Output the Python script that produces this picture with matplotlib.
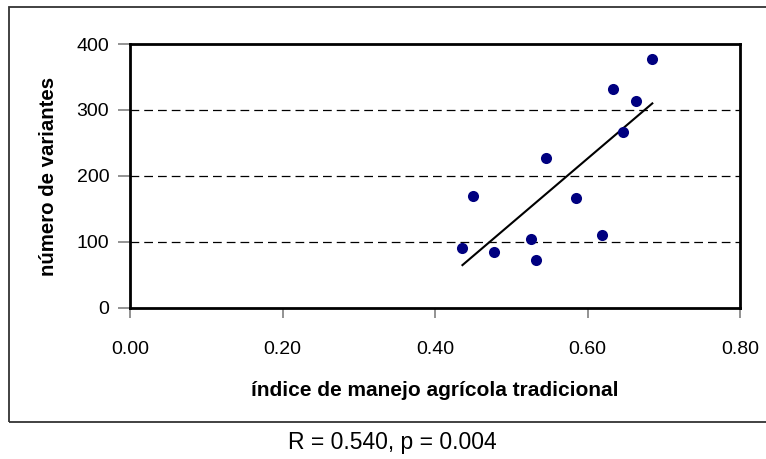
import matplotlib.pyplot as plt
from matplotlib.patches import Rectangle

plt.rcParams['font.family'] = ['Liberation Sans', 'DejaVu Sans']

# indice de manejo agricola tradicional vs numero de variantes
indice = [0.436, 0.450, 0.478, 0.526, 0.532, 0.546, 0.585, 0.619, 0.633, 0.647, 0.664, 0.684]
variantes = [91, 170, 85, 104, 72, 228, 166, 111, 332, 267, 313, 378]

# regression line end points
trend_x = [0.436, 0.685]
trend_y = [65, 310]

xticks = [0.0, 0.2, 0.4, 0.6, 0.8]
yticks = [0, 100, 200, 300, 400]

fig = plt.figure(figsize=(7.66, 4.59), dpi=100)

# outer chart border
fig.patches.append(Rectangle((9 / 766, 1 - 422 / 459), 1.0, (422 - 7) / 459,
                             transform=fig.transFigure, fill=False,
                             edgecolor='#333333', linewidth=1.3))

ax = fig.add_axes([130 / 766, 1 - 308 / 459, 610 / 766, 264 / 459])
ax.scatter(indice, variantes, s=64, color='#000080', zorder=3, linewidths=0)
ax.plot(trend_x, trend_y, color='black', linewidth=1.5, zorder=2)

ax.set_xlim(0, 0.8)
ax.set_ylim(0, 400)
ax.set_xticks(xticks)
ax.set_xticklabels(['%.2f' % t for t in xticks])
ax.set_yticks(yticks)
ax.set_yticklabels([str(t) for t in yticks])

for y in yticks[1:-1]:
    ax.axhline(y, color='black', linestyle=(0, (7, 4)), linewidth=0.9, zorder=1)

for s in ax.spines.values():
    s.set_linewidth(2)
    s.set_color('black')

ax.tick_params(axis='x', direction='out', length=7, width=1.2, color='#808080',
               labelsize=14, pad=17)
ax.tick_params(axis='y', direction='out', length=9, width=1.2, color='#808080',
               labelsize=14, pad=6)

ax.set_xlabel('índice de manejo agrícola tradicional', fontsize=15, fontweight='bold',
              labelpad=16)
ax.set_ylabel('número de variantes', fontsize=14.7, fontweight='bold', labelpad=13)

fig.text(392 / 766, 1 - 443 / 459, 'R = 0.540, p = 0.004', fontsize=16.5,
         ha='center', va='center')

fig.savefig('out.png', dpi=100)
